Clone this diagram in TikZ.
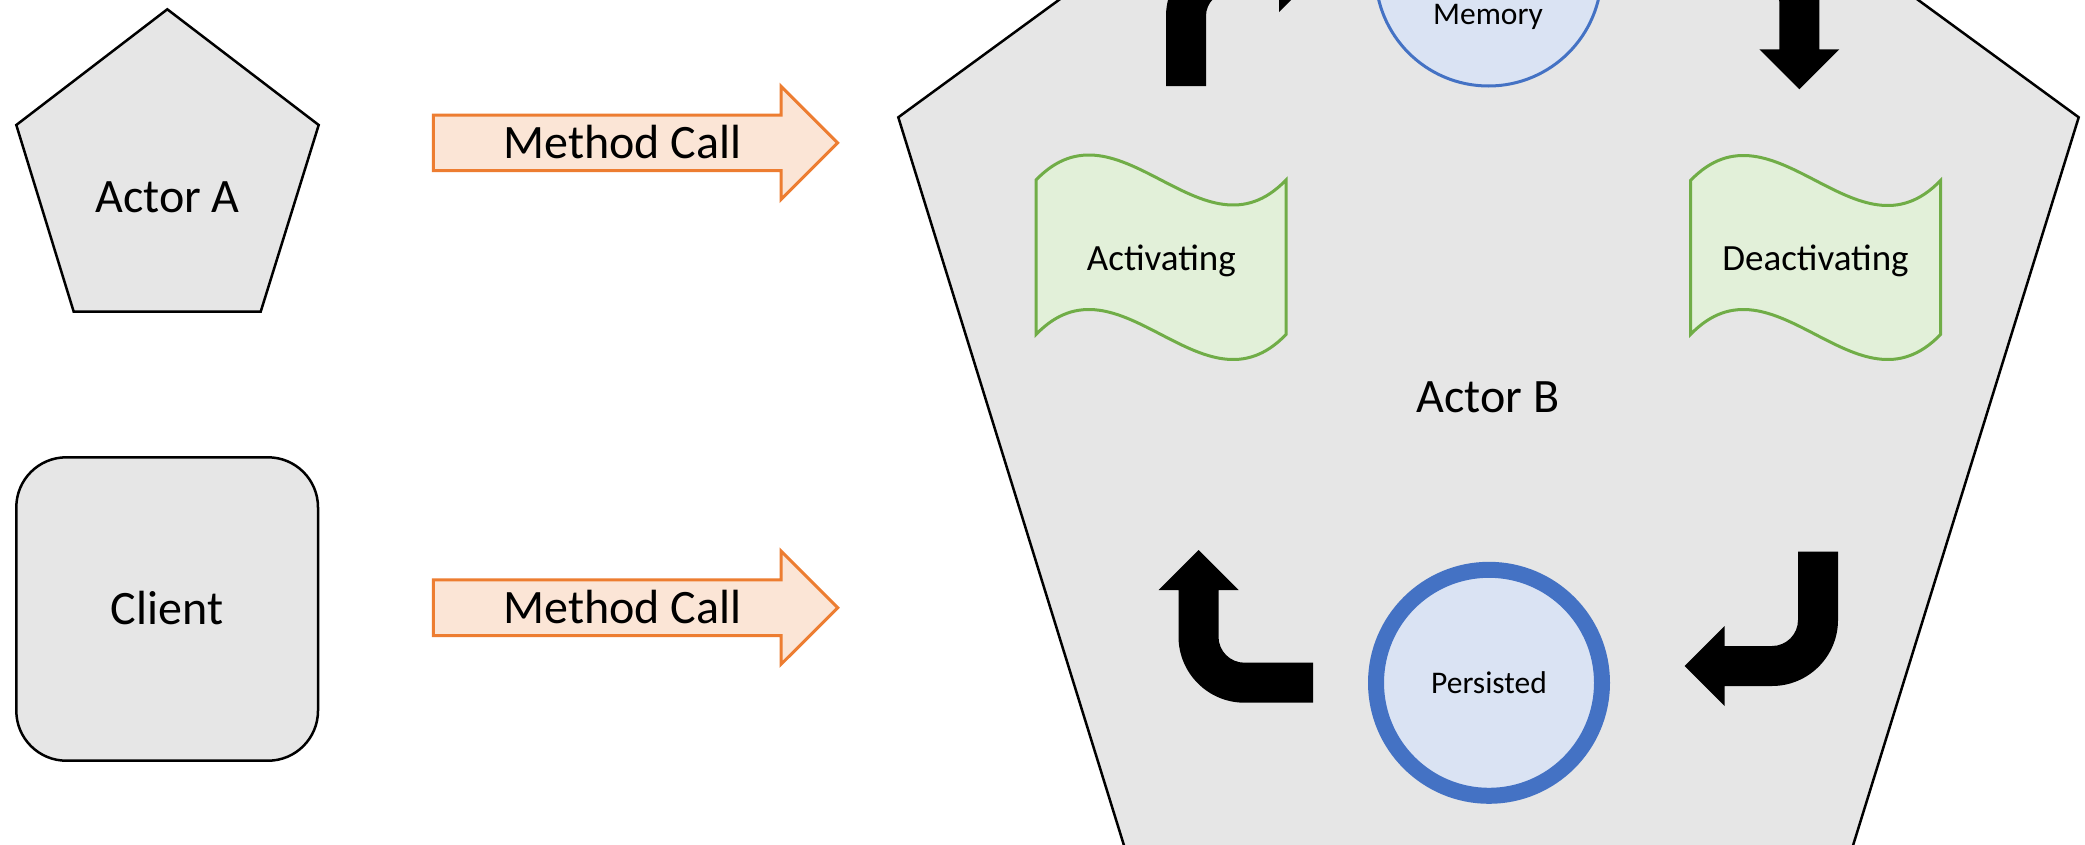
\documentclass[tikz,border=0pt]{standalone}
\usepackage{fontspec}
\setmainfont{Carlito}

\definecolor{actorgray}{HTML}{E6E6E6}
\definecolor{callfill}{HTML}{FBE5D6}
\definecolor{calledge}{HTML}{ED7D31}
\definecolor{wavefill}{HTML}{E2F0D9}
\definecolor{waveedge}{HTML}{70AD47}
\definecolor{ringfill}{HTML}{DAE3F3}
\definecolor{ringblue}{HTML}{4472C4}

\tikzset{
  actorshape/.style={draw=black, fill=actorgray, line width=2.5pt, line join=miter},
  callarrow/.style={draw=calledge, fill=callfill, line width=3pt, line join=miter},
  wavebox/.style={draw=waveedge, fill=wavefill, line width=3pt},
  statering/.style={circle, draw=ringblue, fill=ringfill, inner sep=0pt, minimum size=226pt},
  bentarrow/.style={fill=black},
  bigtext/.style={font=\fontsize{48}{58}\selectfont, anchor=base, inner sep=0pt},
  wavetext/.style={font=\fontsize{37}{44}\selectfont, anchor=base, inner sep=0pt},
  ringtext/.style={font=\fontsize{31.5}{38}\selectfont, anchor=base, inner sep=0pt},
}

\begin{document}
\begin{tikzpicture}[x=1pt, y=-1pt]
\useasboundingbox (0,0) rectangle (2085,844);
\fill[white] (0,0) rectangle (2085,844);

\begin{scope}
\clip (0,0) rectangle (2085,844);

% Actor A: pentagon
\draw[actorshape] (167.3,9.3) -- (318.7,125) -- (260.7,311.7) -- (73.7,311.7) -- (16.3,125) -- cycle;
\node[bigtext] (actorA) at (167.5,212.7) {Actor A};

% Client: rounded box
\draw[actorshape, rounded corners=50pt] (16.3,457.3) rectangle (318,760.7);
\node[bigtext] (client) at (167,624.3) {Client};

% Method call arrows
\draw[callarrow] (433.3,115) -- (781,115) -- (781,86.2) -- (837.7,142.85)
  -- (781,199.5) -- (781,170.7) -- (433.3,170.7) -- cycle;
\node[bigtext] (callA) at (622.5,158.3) {Method Call};

\draw[callarrow] (433.3,579.85) -- (781,579.85) -- (781,551.05) -- (837.7,607.7)
  -- (781,664.35) -- (781,635.55) -- (433.3,635.55) -- cycle;
\node[bigtext] (callC) at (622.5,623.2) {Method Call};

% Actor B: large pentagon
\draw[actorshape] (1488.5,-314) -- (2078.7,117.3) -- (1851.6,850) -- (1125.4,850) -- (898.3,117.3) -- cycle;
\node[bigtext] (actorB) at (1488,412.7) {Actor B};

% Activating / Deactivating wave banners
\draw[wavebox] (1036,180) .. controls (1119.3,93.4) and (1202.7,266.6) .. (1286,180)
  -- (1286,334.5) .. controls (1202.7,421.1) and (1119.3,247.9) .. (1036,334.5) -- cycle;
\node[wavetext] (activating) at (1161.3,270) {Activating};

\draw[wavebox] (1690.5,180.5) .. controls (1773.8,93.9) and (1857.2,267.1) .. (1940.5,180.5)
  -- (1940.5,334.5) .. controls (1857.2,421.1) and (1773.8,247.9) .. (1690.5,334.5) -- cycle;
\node[wavetext] (deactivating) at (1815.5,270) {Deactivating};

% State rings
\node[statering, line width=3pt] (memory) at (1488.5,-27) {};
\node[ringtext] (memorylabel) at (1488,24) {Memory};

\node[statering, line width=16pt] (persisted) at (1489,682.8) {};
\node[ringtext] (persistedlabel) at (1489,693.3) {Persisted};

% Bent arrows of the life cycle
% top left: up, then right
\fill[bentarrow] (1166,86) -- (1166,16) .. controls (1166,-19.3) and (1194.7,-48) .. (1230,-48)
  -- (1279,-48) -- (1279,-68) -- (1319,-28) -- (1279,12) -- (1279,-8) -- (1230,-8)
  .. controls (1216.75,-8) and (1206,2.75) .. (1206,16) -- (1206,86) -- cycle;

% top right: right, then down
\fill[bentarrow] (1685,-64.2) -- (1753.3,-64.2) .. controls (1789.7,-64.2) and (1819.3,-34.6) .. (1819.3,1.8)
  -- (1819.3,49.3) -- (1839.3,49.3) -- (1799.3,89.3) -- (1759.3,49.3) -- (1779.3,49.3)
  -- (1779.3,1.8) .. controls (1779.3,-12.55) and (1767.65,-24.2) .. (1753.3,-24.2)
  -- (1685,-24.2) -- cycle;

% bottom right: down, then left
\fill[bentarrow] (1798,551.7) -- (1798,620) .. controls (1798,634.35) and (1786.35,646) .. (1772,646)
  -- (1724.5,646) -- (1724.5,626) -- (1684.5,666) -- (1724.5,706) -- (1724.5,686) -- (1772,686)
  .. controls (1808.4,686) and (1838,656.4) .. (1838,620) -- (1838,551.7) -- cycle;

% bottom left: left, then up
\fill[bentarrow] (1313,662.7) -- (1244.5,662.7) .. controls (1230.15,662.7) and (1218.5,651.05) .. (1218.5,636.7)
  -- (1218.5,590) -- (1238.5,590) -- (1198.5,550) -- (1158.5,590) -- (1178.5,590) -- (1178.5,636.7)
  .. controls (1178.5,673.1) and (1208.1,702.7) .. (1244.5,702.7) -- (1313,702.7) -- cycle;
\end{scope}
\end{tikzpicture}
\end{document}
